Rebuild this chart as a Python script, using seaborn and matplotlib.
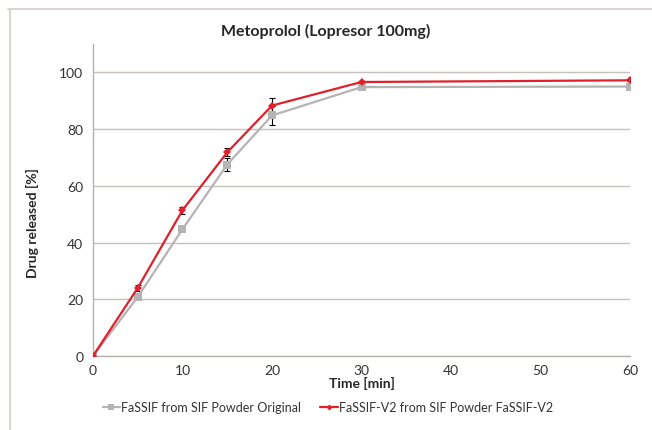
import matplotlib
matplotlib.use("Agg")
import matplotlib.pyplot as plt
import seaborn as sns
import pandas as pd
from matplotlib.lines import Line2D

# datos
time_min = [0, 5, 10, 15, 20, 30, 60]
original = [0, 20.8, 44.7, 67.5, 84.8, 94.8, 95.0]
original_err = [0, 0.6, 0.6, 2.3, 3.2, 0.5, 0.5]
v2 = [0, 24.0, 51.4, 71.8, 88.3, 96.6, 97.2]
v2_err = [0, 1.0, 1.3, 1.4, 2.6, 0.4, 0.4]
labels = ["FaSSIF from SIF Powder Original", "FaSSIF-V2 from SIF Powder FaSSIF-V2"]

df = pd.DataFrame({
    "time": time_min * 2,
    "released": original + v2,
    "err": original_err + v2_err,
    "serie": [labels[0]] * len(time_min) + [labels[1]] * len(time_min),
})

sns.set_style("white")
plt.rcParams["font.family"] = ["Lato", "DejaVu Sans"]

fig = plt.figure(figsize=(6.52, 4.31), dpi=100)
ax = fig.add_axes([0.1426, 0.1717, 0.8237, 0.7239])

colors = {labels[0]: "#b4b4b4", labels[1]: "#e0202a"}
markers = {labels[0]: "s", labels[1]: "D"}
msize = {labels[0]: 6, labels[1]: 4}

for lab in labels:
    d = df[df["serie"] == lab]
    ax.errorbar(d["time"], d["released"], yerr=d["err"], fmt="none",
                ecolor="black", elinewidth=0.8, capsize=2, capthick=0.8, zorder=2)
    sns.lineplot(data=d, x="time", y="released", ax=ax, color=colors[lab],
                 marker=markers[lab], markersize=msize[lab], markeredgewidth=0,
                 linewidth=1.6, zorder=3)

ax.set_xlim(0, 60)
ax.set_ylim(0, 110)
ax.set_xticks(range(0, 61, 10))
ax.set_yticks(range(0, 101, 20))
ax.yaxis.grid(True, color="#c8c0bc", linewidth=1)
ax.xaxis.grid(False)
for s in ["top", "right"]:
    ax.spines[s].set_visible(False)
for s in ["left", "bottom"]:
    ax.spines[s].set_color("#b8b0ac")
    ax.spines[s].set_linewidth(1)
ax.tick_params(axis="both", which="major", direction="out", length=4, width=1,
               color="#b8b0ac", labelsize=10, labelcolor="#333333", pad=3)
ax.tick_params(axis="x", pad=2)

ax.set_xlabel("Time [min]", fontsize=10, fontweight="bold", labelpad=0)
ax.set_ylabel("Drug released [%]", fontsize=10, fontweight="bold")
ax.yaxis.set_label_coords(-0.1, 0.43)
fig.text(0.5, 0.928, "Metoprolol (Lopresor 100mg)", ha="center", va="center",
         fontsize=11.5, fontweight="bold")

handles = [Line2D([0], [0], color=colors[l], marker=markers[l], markersize=msize[l] - 1,
                  markeredgewidth=0, linewidth=1.6) for l in labels]
fig.legend(handles, labels, loc="center left", bbox_to_anchor=(0.14, 0.053),
           ncol=2, frameon=False, fontsize=9, handlelength=1.4, handletextpad=0.1,
           columnspacing=1.5, labelcolor="#333333")

# borde del area del grafico
fig.add_artist(Line2D([0.013, 1.0], [0.977, 0.977], color="#d6ccc8", linewidth=1.2,
                      transform=fig.transFigure))
fig.add_artist(Line2D([0.016, 0.016], [0.0, 0.977], color="#d6ccc8", linewidth=1.2,
                      transform=fig.transFigure))

fig.savefig("out.png", dpi=100)
